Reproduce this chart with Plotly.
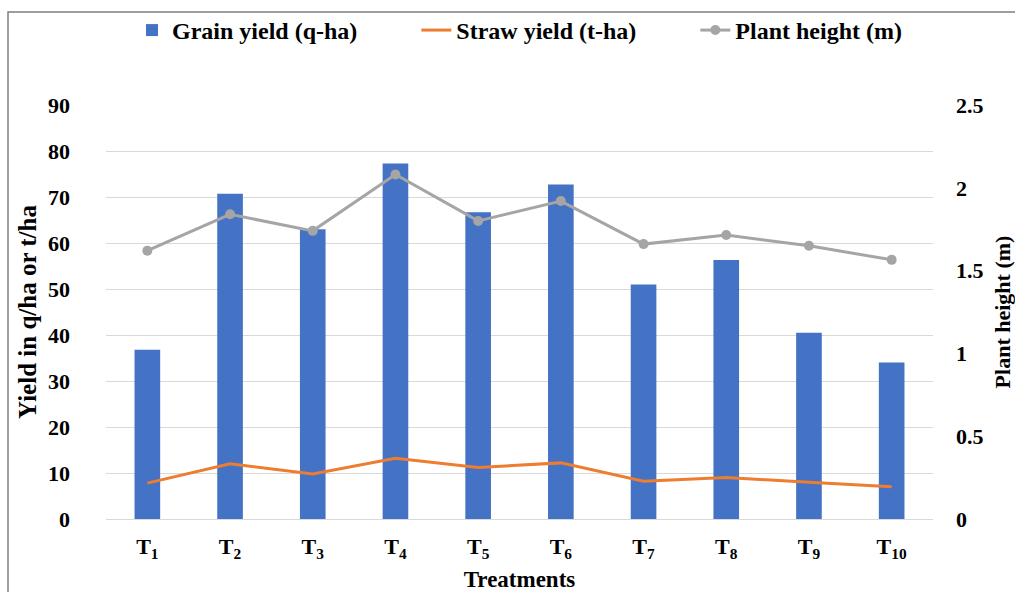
import plotly.graph_objects as go

categories = ["T<sub>1</sub>", "T<sub>2</sub>", "T<sub>3</sub>", "T<sub>4</sub>", "T<sub>5</sub>",
              "T<sub>6</sub>", "T<sub>7</sub>", "T<sub>8</sub>", "T<sub>9</sub>", "T<sub>10</sub>"]
grain_yield = [36.8, 70.7, 63.0, 77.3, 66.7, 72.7, 51.0, 56.3, 40.5, 34.0]
straw_yield = [7.8, 12.0, 9.8, 13.2, 11.2, 12.2, 8.2, 9.0, 8.0, 7.0]
plant_height = [1.62, 1.84, 1.74, 2.08, 1.80, 1.92, 1.66, 1.715, 1.65, 1.565]
left_ticks = [0, 10, 20, 30, 40, 50, 60, 70, 80, 90]
right_ticks = [0, 0.5, 1, 1.5, 2, 2.5]
right_tick_text = ["0", "0.5", "1", "1.5", "2", "2.5"]

FONT = "Liberation Serif"

fig = go.Figure()
fig.add_trace(go.Bar(x=categories, y=grain_yield, name="<b>Grain yield (q-ha)</b>" + "\u00a0" * 9,
                     marker=dict(color="#4472C4", line=dict(width=0))))
fig.add_trace(go.Scatter(x=categories, y=straw_yield, name="<b>Straw yield (t-ha)</b>" + "\u00a0" * 9,
                         mode="lines", line=dict(color="#ED7D31", width=3)))
fig.add_trace(go.Scatter(x=categories, y=plant_height, name="<b>Plant height (m)</b>",
                         mode="lines+markers", yaxis="y2",
                         line=dict(color="#A5A5A5", width=3),
                         marker=dict(color="#A5A5A5", size=10)))

fig.update_layout(
    width=1015, height=592,
    margin=dict(l=106, r=82, t=105, b=73, autoexpand=False),
    paper_bgcolor="white", plot_bgcolor="white",
    font=dict(family=FONT, color="black", size=21),
    bargap=0.69,
    showlegend=True,
    legend=dict(orientation="h", x=0.5, xanchor="center", y=1.18, yanchor="middle",
                font=dict(family=FONT, size=24, color="black"),
                traceorder="normal", bgcolor="rgba(0,0,0,0)"),
    xaxis=dict(tickvals=categories, ticktext=[f"<b>{c}</b>" for c in categories],
               range=[-0.5, 9.5],
               tickfont=dict(family=FONT, size=22), showgrid=False, automargin=False,
               showline=True, linecolor="#D9D9D9", linewidth=1, ticks="",
               ticklabelstandoff=8,
               title=dict(text="<b>Treatments</b>", font=dict(family=FONT, size=23), standoff=9)),
    yaxis=dict(range=[0, 90], tickvals=left_ticks, ticktext=[f"<b>{t}</b>" for t in left_ticks],
               tickfont=dict(family=FONT, size=22), showgrid=True, gridcolor="#D9D9D9",
               gridwidth=1, zeroline=False, showline=False, ticklabelstandoff=35,
               automargin=False,
               title=dict(text="<b>Yield in q/ha or t/ha</b>", font=dict(family=FONT, size=25), standoff=4)),
    yaxis2=dict(range=[0, 2.5], overlaying="y", side="right", tickvals=right_ticks,
                ticktext=[f"<b>{t}</b>" for t in right_tick_text],
                tickfont=dict(family=FONT, size=22), showgrid=False, zeroline=False,
                showline=False, ticklabelstandoff=22, automargin=False,
                title=dict(text="<b>Plant height (m)</b>", font=dict(family=FONT, size=22), standoff=14)),
    shapes=[dict(type="rect", xref="paper", yref="paper", x0=-0.1185, x1=1.12, y0=-0.3, y1=1.2246,
                 line=dict(color="#7F7F7F", width=1.5), fillcolor="rgba(0,0,0,0)", layer="below")],
)

fig.write_html("out.html")
